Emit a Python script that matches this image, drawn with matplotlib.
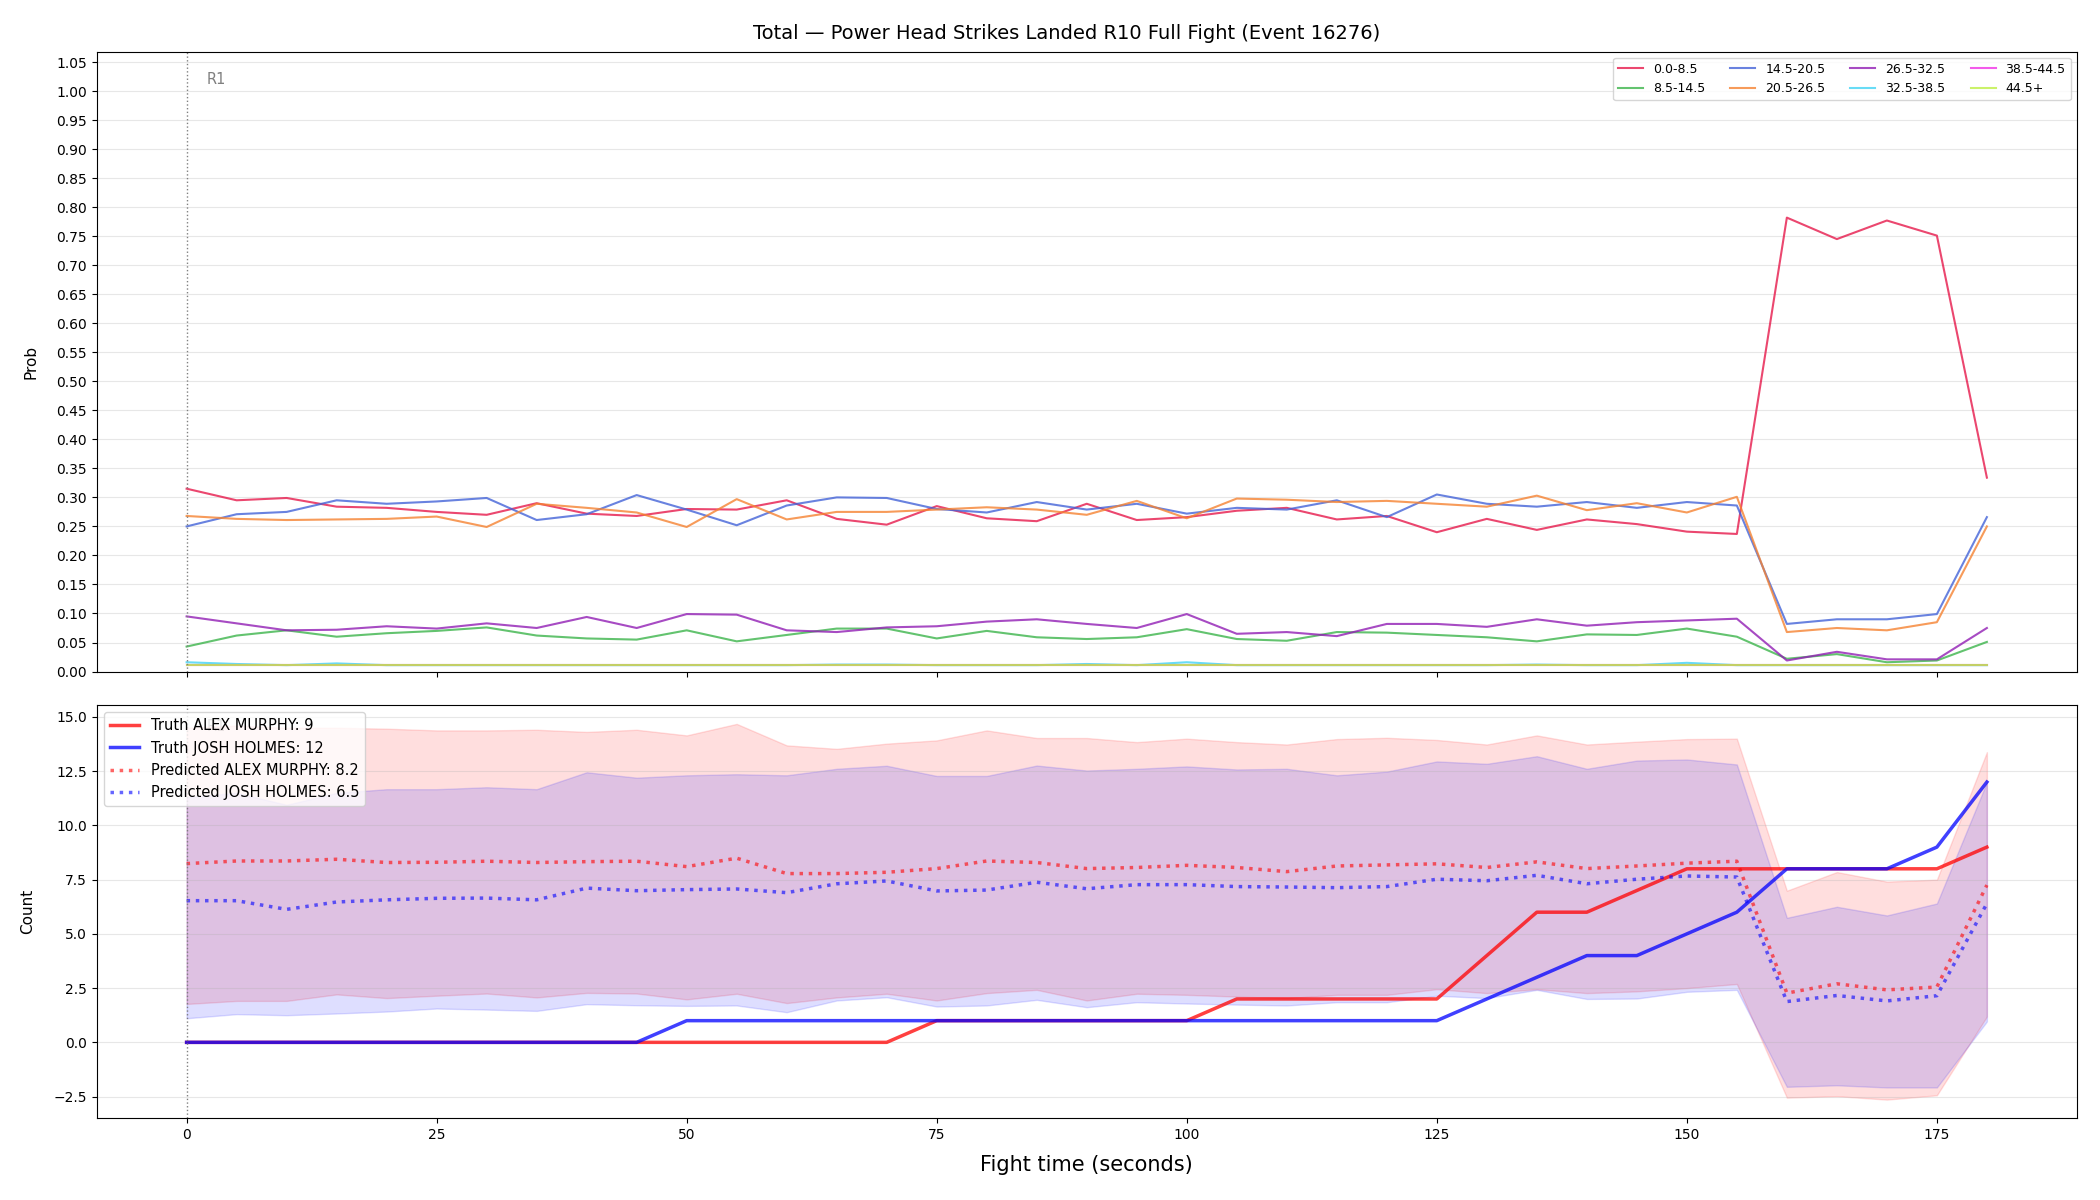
import numpy as np
import matplotlib
matplotlib.use("Agg")
import matplotlib.pyplot as plt

# fight time (s), one sample every 5 s
t = [0, 5, 10, 15, 20, 25, 30, 35, 40, 45, 50, 55, 60, 65, 70, 75, 80, 85, 90,
     95, 100, 105, 110, 115, 120, 125, 130, 135, 140, 145, 150, 155, 160, 165,
     170, 175, 180]

bins = ['0.0-8.5', '8.5-14.5', '14.5-20.5', '20.5-26.5', '26.5-32.5',
        '32.5-38.5', '38.5-44.5', '44.5+']
bin_colors = ['#e6194b', '#3cb44b', '#4363d8', '#f58231', '#911eb4',
              '#42d4f4', '#f032e6', '#bfef45']

p_0_8 = [0.315, 0.295, 0.299, 0.284, 0.282, 0.275, 0.270, 0.290, 0.272, 0.268,
         0.280, 0.279, 0.295, 0.263, 0.253, 0.285, 0.264, 0.259, 0.289, 0.261,
         0.266, 0.277, 0.282, 0.262, 0.268, 0.240, 0.263, 0.244, 0.262, 0.254,
         0.241, 0.237, 0.782, 0.745, 0.777, 0.751, 0.334]
p_8_14 = [0.043, 0.062, 0.071, 0.060, 0.066, 0.070, 0.076, 0.062, 0.057, 0.055,
          0.071, 0.052, 0.063, 0.074, 0.074, 0.057, 0.070, 0.059, 0.056, 0.059,
          0.073, 0.056, 0.053, 0.068, 0.067, 0.063, 0.059, 0.052, 0.064, 0.063,
          0.074, 0.060, 0.022, 0.030, 0.016, 0.019, 0.051]
p_14_20 = [0.250, 0.271, 0.275, 0.295, 0.289, 0.293, 0.299, 0.261, 0.271, 0.304,
           0.279, 0.252, 0.286, 0.300, 0.299, 0.280, 0.274, 0.292, 0.279, 0.289,
           0.272, 0.282, 0.279, 0.295, 0.266, 0.305, 0.289, 0.284, 0.292, 0.282,
           0.292, 0.286, 0.082, 0.090, 0.090, 0.099, 0.266]
p_20_26 = [0.268, 0.263, 0.261, 0.262, 0.263, 0.267, 0.249, 0.289, 0.282, 0.274,
           0.249, 0.297, 0.262, 0.275, 0.275, 0.279, 0.283, 0.279, 0.270, 0.294,
           0.264, 0.298, 0.296, 0.292, 0.294, 0.289, 0.284, 0.303, 0.278, 0.290,
           0.274, 0.301, 0.068, 0.075, 0.071, 0.085, 0.250]
p_26_32 = [0.095, 0.083, 0.071, 0.072, 0.078, 0.074, 0.083, 0.075, 0.094, 0.075,
           0.099, 0.098, 0.071, 0.068, 0.076, 0.078, 0.086, 0.090, 0.082, 0.075,
           0.099, 0.065, 0.068, 0.061, 0.082, 0.082, 0.077, 0.090, 0.079, 0.085,
           0.088, 0.091, 0.019, 0.034, 0.021, 0.021, 0.075]
p_32_38 = [0.016, 0.013, 0.011, 0.014, 0.011, 0.011, 0.011, 0.011, 0.011, 0.011,
           0.011, 0.011, 0.011, 0.012, 0.012, 0.011, 0.011, 0.011, 0.013, 0.011,
           0.016, 0.011, 0.011, 0.011, 0.011, 0.011, 0.011, 0.012, 0.011, 0.011,
           0.015, 0.011, 0.011, 0.011, 0.011, 0.011, 0.011]
p_38_44 = [0.011, 0.011, 0.011, 0.011, 0.011, 0.011, 0.011, 0.011, 0.011, 0.011,
           0.011, 0.011, 0.011, 0.011, 0.011, 0.011, 0.011, 0.011, 0.011, 0.011,
           0.011, 0.011, 0.011, 0.011, 0.011, 0.011, 0.011, 0.011, 0.011, 0.011,
           0.011, 0.011, 0.011, 0.011, 0.011, 0.011, 0.011]
p_44_up = [0.011, 0.011, 0.011, 0.011, 0.011, 0.011, 0.011, 0.011, 0.011, 0.011,
           0.011, 0.011, 0.011, 0.011, 0.011, 0.011, 0.011, 0.011, 0.011, 0.011,
           0.011, 0.011, 0.011, 0.011, 0.011, 0.011, 0.011, 0.011, 0.011, 0.011,
           0.011, 0.011, 0.011, 0.011, 0.011, 0.011, 0.011]
probs = [p_0_8, p_8_14, p_14_20, p_20_26, p_26_32, p_32_38, p_38_44, p_44_up]

# counts panel
truth_murphy = [0, 0, 0, 0, 0, 0, 0, 0, 0, 0, 0, 0, 0, 0, 0, 1, 1, 1, 1, 1,
                1, 2, 2, 2, 2, 2, 4, 6, 6, 7, 8, 8, 8, 8, 8, 8, 9]
truth_holmes = [0, 0, 0, 0, 0, 0, 0, 0, 0, 0, 1, 1, 1, 1, 1, 1, 1, 1, 1, 1,
                1, 1, 1, 1, 1, 1, 2, 3, 4, 4, 5, 6, 8, 8, 8, 9, 12]
pred_murphy = [8.24, 8.36, 8.36, 8.44, 8.29, 8.30, 8.35, 8.29, 8.33, 8.35,
               8.10, 8.49, 7.78, 7.78, 7.84, 8.01, 8.36, 8.29, 8.01, 8.06,
               8.16, 8.06, 7.87, 8.13, 8.18, 8.23, 8.06, 8.32, 8.01, 8.13,
               8.26, 8.35, 2.27, 2.70, 2.42, 2.55, 7.25]
pred_holmes = [6.53, 6.53, 6.13, 6.47, 6.57, 6.64, 6.65, 6.57, 7.11, 6.99,
               7.04, 7.07, 6.90, 7.31, 7.44, 6.98, 7.02, 7.38, 7.08, 7.27,
               7.27, 7.18, 7.16, 7.13, 7.18, 7.52, 7.45, 7.70, 7.31, 7.52,
               7.67, 7.62, 1.88, 2.16, 1.91, 2.15, 6.40]
hi_murphy = [14.50, 14.60, 14.50, 14.50, 14.46, 14.38, 14.38, 14.41, 14.31, 14.41,
             14.15, 14.68, 13.69, 13.53, 13.77, 13.92, 14.38, 14.03, 14.03, 13.84,
             14.00, 13.84, 13.73, 13.98, 14.04, 13.94, 13.73, 14.15, 13.73, 13.86,
             13.98, 14.00, 6.99, 7.85, 7.41, 7.50, 13.38]
lo_murphy = [1.77, 1.91, 1.91, 2.21, 2.04, 2.15, 2.25, 2.07, 2.28, 2.25,
             1.98, 2.24, 1.81, 2.07, 2.24, 1.93, 2.27, 2.42, 1.93, 2.24,
             2.19, 2.11, 2.04, 2.19, 2.19, 2.45, 2.27, 2.45, 2.27, 2.35,
             2.50, 2.69, -2.55, -2.48, -2.64, -2.44, 1.19]
hi_holmes = [11.30, 11.50, 10.95, 11.50, 11.67, 11.67, 11.76, 11.67, 12.45, 12.20,
             12.31, 12.36, 12.31, 12.61, 12.75, 12.28, 12.28, 12.76, 12.53, 12.61,
             12.72, 12.58, 12.61, 12.31, 12.48, 12.95, 12.84, 13.19, 12.61, 12.99,
             13.04, 12.81, 5.74, 6.25, 5.85, 6.40, 11.99]
lo_holmes = [1.11, 1.30, 1.25, 1.33, 1.42, 1.56, 1.51, 1.45, 1.76, 1.71,
             1.68, 1.70, 1.39, 1.93, 2.08, 1.65, 1.70, 1.96, 1.62, 1.85,
             1.79, 1.74, 1.70, 1.85, 1.85, 2.15, 2.04, 2.42, 2.00, 2.02,
             2.33, 2.42, -2.05, -1.98, -2.08, -2.08, 0.96]

round_starts = [0]
round_labels = ['R1']

fig, (ax1, ax2) = plt.subplots(2, 1, figsize=(21, 12), dpi=100, sharex=True,
                               gridspec_kw={'height_ratios': [3, 2]})
fig.subplots_adjust(left=0.046, right=0.989, top=0.957, bottom=0.068, hspace=0.065)

for name, col, p in zip(bins, bin_colors, probs):
    ax1.plot(t, p, color=col, lw=1.5, alpha=0.8, label=name)
ax1.set_ylim(0, 1.068)
ax1.set_yticks(np.arange(0, 1.06, 0.05))
ax1.yaxis.set_major_formatter(matplotlib.ticker.FormatStrFormatter('%.2f'))
ax1.set_ylabel('Prob', fontsize=11, labelpad=13)
ax1.grid(axis='y', alpha=0.3)
ax1.legend(loc='upper right', ncol=4, fontsize=9)
fig.suptitle('Total \u2014 Power Head Strikes Landed R10 Full Fight (Event 16276)',
             fontsize=14, x=0.508, y=0.98)

ax2.fill_between(t, lo_murphy, hi_murphy, color='red', alpha=0.13)
ax2.fill_between(t, lo_holmes, hi_holmes, color='blue', alpha=0.13)
ax2.plot(t, truth_murphy, color='red', lw=2.5, alpha=0.75, label='Truth ALEX MURPHY: 9')
ax2.plot(t, truth_holmes, color='blue', lw=2.5, alpha=0.75, label='Truth JOSH HOLMES: 12')
ax2.plot(t, pred_murphy, color='red', lw=2.5, ls=':', alpha=0.6,
         label='Predicted ALEX MURPHY: 8.2')
ax2.plot(t, pred_holmes, color='blue', lw=2.5, ls=':', alpha=0.6,
         label='Predicted JOSH HOLMES: 6.5')
ax2.set_ylabel('Count', fontsize=11, labelpad=13)
ax2.grid(axis='y', alpha=0.3)
ax2.legend(loc='upper left', fontsize=10.5)
ax2.set_xlabel('Fight time (seconds)', fontsize=15, labelpad=9)

for ax in (ax1, ax2):
    for rs, rl in zip(round_starts, round_labels):
        ax.axvline(rs, color='gray', ls=':', lw=1)
        lo, hi = ax.get_ylim()
        ax.text(rs + 2, hi - (hi - lo) * 0.033, rl, color='gray', fontsize=10.5,
                va='top', zorder=0)

fig.savefig('out.png', dpi=100)
